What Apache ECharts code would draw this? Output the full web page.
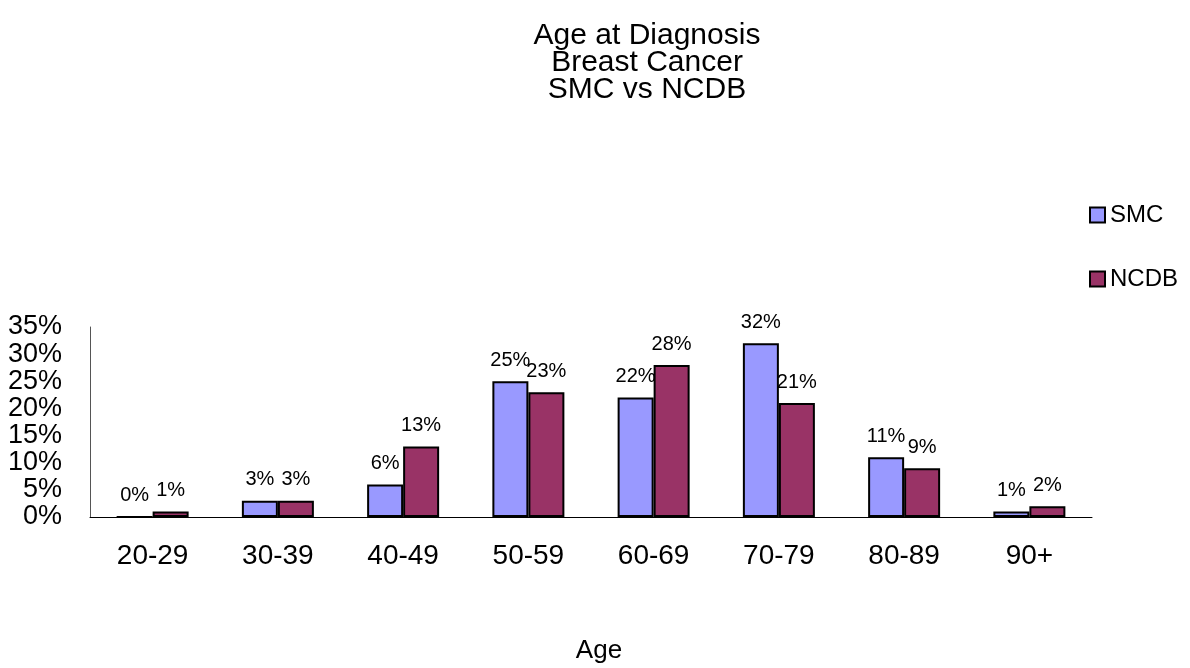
<!DOCTYPE html>
<html>
<head>
<meta charset="utf-8">
<script src="https://cdn.jsdelivr.net/npm/echarts@6/dist/echarts.min.js"></script>
<style>
  html, body { margin: 0; padding: 0; background: #fff; }
  #chart { width: 1190px; height: 668px; }
</style>
</head>
<body>
<div id="chart"></div>
<script>
// age groups and percentages
const ageGroups = ['20-29', '30-39', '40-49', '50-59', '60-69', '70-79', '80-89', '90+'];
const smcValues = [0, 3, 6, 25, 22, 32, 11, 1];
const ncdbValues = [1, 3, 13, 23, 28, 21, 9, 2];
const yTicks = [0, 5, 10, 15, 20, 25, 30, 35];

const FONT = 'Liberation Sans';

const myChart = echarts.init(document.getElementById('chart'));

const labelStyle = {
  show: true,
  position: 'top',
  distance: 11,
  formatter: '{c}%',
  fontFamily: FONT,
  fontSize: 20,
  color: '#000',
};

const option = {
  animation: false,
  backgroundColor: '#fff',
  title: {
    text: 'Age at Diagnosis\nBreast Cancer\nSMC vs NCDB',
    left: 642,
    textAlign: 'center',
    top: 17,
    textStyle: {
      fontFamily: FONT,
      fontWeight: 'normal',
      fontSize: 30,
      lineHeight: 27,
      color: '#000',
    },
  },
  legend: {
    orient: 'vertical',
    left: 1084,
    top: 198,
    itemGap: 40,
    itemWidth: 15,
    itemHeight: 15,
    icon: 'rect',
    textStyle: { fontFamily: FONT, fontSize: 24, color: '#000' },
    data: ['SMC', 'NCDB'],
  },
  grid: {
    left: 90,
    right: 98,
    top: 327,
    bottom: 151,
    containLabel: false,
    outerBoundsMode: 'none',
  },
  xAxis: {
    type: 'category',
    data: ageGroups,
    name: 'Age',
    nameLocation: 'middle',
    nameGap: 121,
    nameTextStyle: { fontFamily: FONT, fontSize: 26, color: '#000', padding: [0, 0, 0, 16] },
    axisLine: { lineStyle: { color: '#000', width: 1 } },
    axisTick: { show: false },
    axisLabel: { fontFamily: FONT, fontSize: 28, color: '#000', margin: 25 },
  },
  yAxis: {
    type: 'value',
    min: yTicks[0],
    max: yTicks[yTicks.length - 1],
    interval: 5,
    axisLine: { show: true, lineStyle: { color: '#555', width: 1 } },
    axisTick: { show: false },
    splitLine: { show: false },
    axisLabel: {
      fontFamily: FONT,
      fontSize: 27,
      color: '#000',
      margin: 28,
      formatter: '{value}%',
    },
  },
  series: [
    {
      name: 'SMC',
      type: 'bar',
      data: smcValues,
      barWidth: 36,
      barGap: '0%',
      itemStyle: { color: '#9999ff', borderColor: '#000', borderWidth: 2 },
      label: labelStyle,
    },
    {
      name: 'NCDB',
      type: 'bar',
      data: ncdbValues,
      barWidth: 36,
      barGap: '0%',
      itemStyle: { color: '#993366', borderColor: '#000', borderWidth: 2 },
      label: labelStyle,
    },
  ],
};

myChart.setOption(option);
</script>
</body>
</html>
